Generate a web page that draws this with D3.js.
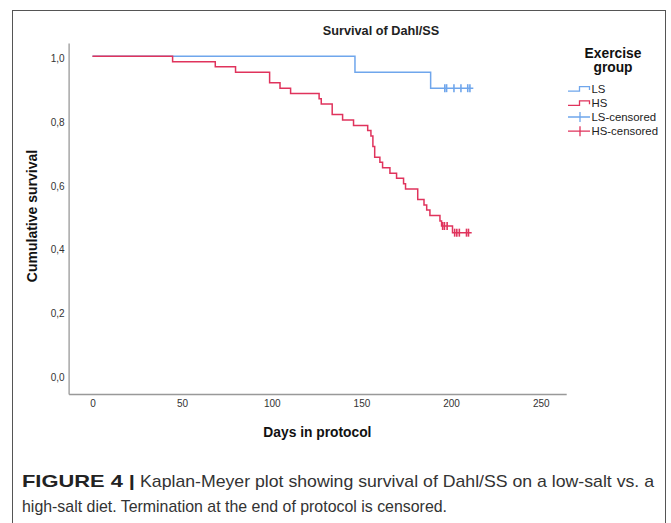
<!DOCTYPE html>
<html>
<head>
<meta charset="utf-8">
<script src="https://cdn.jsdelivr.net/npm/d3@7"></script>
<style>
  body { margin: 0; background: #fff; }
  svg { display: block; font-family: "Liberation Sans", Arial, sans-serif; }
</style>
</head>
<body>
<script>
// data: days and cumulative survival after each step
const lsDays = [0, 146.4, 188.6, 212.4]
const lsSurv = [1, 0.95, 0.90, 0.90]
const hsDays = [0, 44.7, 68.5, 79.8, 98.8, 104.6, 110.5, 126.4, 127.6, 133.7, 139.5, 145.6,
    153.5, 155.3, 156.4, 157.4, 160.3, 161.8, 165.9, 169.6, 173.5, 174.6, 181.4, 184.9,
    186.4, 188.2, 193.8, 194.7, 200.8, 211.5]
const hsSurv = [1, 0.983, 0.967, 0.95, 0.917, 0.9, 0.883, 0.867, 0.85, 0.817, 0.8, 0.783,
    0.767, 0.75, 0.717, 0.683, 0.667, 0.65, 0.633, 0.617, 0.6, 0.583, 0.55, 0.533,
    0.517, 0.5, 0.483, 0.467, 0.446, 0.446]
// censored observations
const lsCensorDays = [196.5, 197.5, 201.6, 205.5, 209.3, 210.5]
const lsCensorSurv = [0.9, 0.9, 0.9, 0.9, 0.9, 0.9]
const hsCensorDays = [195.3, 196.3, 197.8, 202, 203.2, 204.6, 208.6, 209.7]
const hsCensorSurv = [0.467, 0.467, 0.467, 0.446, 0.446, 0.446, 0.446, 0.446]

const xTicks = [0, 50, 100, 150, 200, 250]
const yTicks = [0, 0.2, 0.4, 0.6, 0.8, 1]
const legendLabels = ['LS', 'HS', 'LS-censored', 'HS-censored']

const w = 671
const h = 523
const blue = '#6fa6ec'
const red = '#e0335c'

const svg = d3.select('body')
    .append('svg')
    .attr('width', w)
    .attr('height', h)

// outer frame
svg.append('rect')
    .attr('x', 12.5)
    .attr('y', 10.5)
    .attr('width', 653)
    .attr('height', 530)
    .attr('fill', 'none')
    .attr('stroke', '#555')

// scales
const x = d3.scaleLinear().domain([-13.3, 264.2]).range([68.6, 566.2])
const y = d3.scaleLinear().domain([-0.061, 1.042]).range([394, 43])

// axes
const yAxis = svg.append('g')
    .attr('transform', `translate(${x.range()[0]},0)`)
    .call(d3.axisLeft(y)
        .tickValues(yTicks)
        .tickSize(0)
        .tickPadding(4)
        .tickFormat(d => d3.format('.1f')(d).replace('.', ',')))
yAxis.selectAll('text').attr('dy', '0.55em').style('font-size', '10px').attr('fill', '#333')

const xAxis = svg.append('g')
    .attr('transform', `translate(0,${y.range()[0]})`)
    .call(d3.axisBottom(x)
        .tickValues(xTicks)
        .tickSize(0)
        .tickPadding(6))
xAxis.selectAll('text').style('font-size', '10px').attr('fill', '#333')

svg.selectAll('.domain').attr('stroke', '#999').attr('stroke-width', 1.3)

// step curves
const line = d3.line()
    .x(d => x(d[0]))
    .y(d => y(d[1]))
    .curve(d3.curveStepAfter)

const groups = [
    { days: lsDays, surv: lsSurv, cd: lsCensorDays, cs: lsCensorSurv, color: blue },
    { days: hsDays, surv: hsSurv, cd: hsCensorDays, cs: hsCensorSurv, color: red }
]

groups.forEach(g => {
    svg.append('path')
        .datum(g.days.map((d, i) => [d, g.surv[i]]))
        .attr('fill', 'none')
        .attr('stroke', g.color)
        .attr('stroke-width', 1.5)
        .attr('d', line)

    svg.append('g')
        .selectAll('line')
        .data(g.cd.map((d, i) => [d, g.cs[i]]))
        .enter()
        .append('line')
        .attr('x1', d => x(d[0]))
        .attr('x2', d => x(d[0]))
        .attr('y1', d => y(d[1]) - 4)
        .attr('y2', d => y(d[1]) + 4)
        .attr('stroke', g.color)
        .attr('stroke-width', 1.6)
})

// titles
svg.append('text')
    .attr('x', 381)
    .attr('y', 34.5)
    .attr('text-anchor', 'middle')
    .style('font-size', '12.7px')
    .style('font-weight', 'bold')
    .attr('fill', '#222')
    .text('Survival of Dahl/SS')

svg.append('text')
    .attr('transform', 'translate(37,216) rotate(-90)')
    .attr('text-anchor', 'middle')
    .style('font-size', '14px')
    .style('font-weight', 'bold')
    .attr('fill', '#111')
    .text('Cumulative survival')

svg.append('text')
    .attr('x', (x.range()[0] + x.range()[1]) / 2)
    .attr('y', 436.5)
    .attr('text-anchor', 'middle')
    .style('font-size', '13.8px')
    .style('font-weight', 'bold')
    .attr('fill', '#111')
    .text('Days in protocol')

// legend
const legend = svg.append('g').attr('id', 'legend')

legend.selectAll('text.head')
    .data(['Exercise', 'group'])
    .enter()
    .append('text')
    .attr('class', 'head')
    .attr('x', 613)
    .attr('y', (d, i) => 57.5 + i * 14.6)
    .attr('text-anchor', 'middle')
    .style('font-size', '13.8px')
    .style('font-weight', 'bold')
    .attr('fill', '#111')
    .text(d => d)

const item = legend.selectAll('g.item')
    .data(legendLabels)
    .enter()
    .append('g')
    .attr('class', 'item')
    .attr('transform', (d, i) => `translate(0,${88.6 + i * 14.2})`)

item.append('text')
    .attr('x', 591.5)
    .attr('y', 4)
    .style('font-size', '11.4px')
    .attr('fill', '#222')
    .text(d => d)

item.filter((d, i) => i < 2)
    .append('path')
    .attr('d', 'M568,2.5H579.5V-2H589.5V1.5')
    .attr('fill', 'none')
    .attr('stroke', (d, i) => i === 0 ? blue : red)
    .attr('stroke-width', 1.3)

item.filter((d, i) => i >= 2)
    .append('path')
    .attr('d', 'M568,0H590M580,-5V5')
    .attr('fill', 'none')
    .attr('stroke', (d, i) => i === 0 ? blue : red)
    .attr('stroke-width', 1.3)

// caption
const caption = svg.append('g').style('font-family', '"Liberation Sans Narrow", "Liberation Sans", Arial, sans-serif')

caption.append('text')
    .attr('x', 22)
    .attr('y', 487)
    .style('font-size', '17px')
    .style('font-weight', 'bold')
    .attr('fill', '#222')
    .attr('textLength', 113)
    .attr('lengthAdjust', 'spacingAndGlyphs')
    .text('FIGURE 4 |')

caption.append('text')
    .attr('x', 140)
    .attr('y', 487)
    .style('font-size', '17px')
    .attr('fill', '#333')
    .attr('textLength', 514)
    .attr('lengthAdjust', 'spacingAndGlyphs')
    .text('Kaplan-Meyer plot showing survival of Dahl/SS on a low-salt vs. a')

caption.append('text')
    .attr('x', 22)
    .attr('y', 512)
    .style('font-size', '17px')
    .attr('fill', '#333')
    .attr('textLength', 425)
    .attr('lengthAdjust', 'spacingAndGlyphs')
    .text('high-salt diet. Termination at the end of protocol is censored.')
</script>
</body>
</html>
